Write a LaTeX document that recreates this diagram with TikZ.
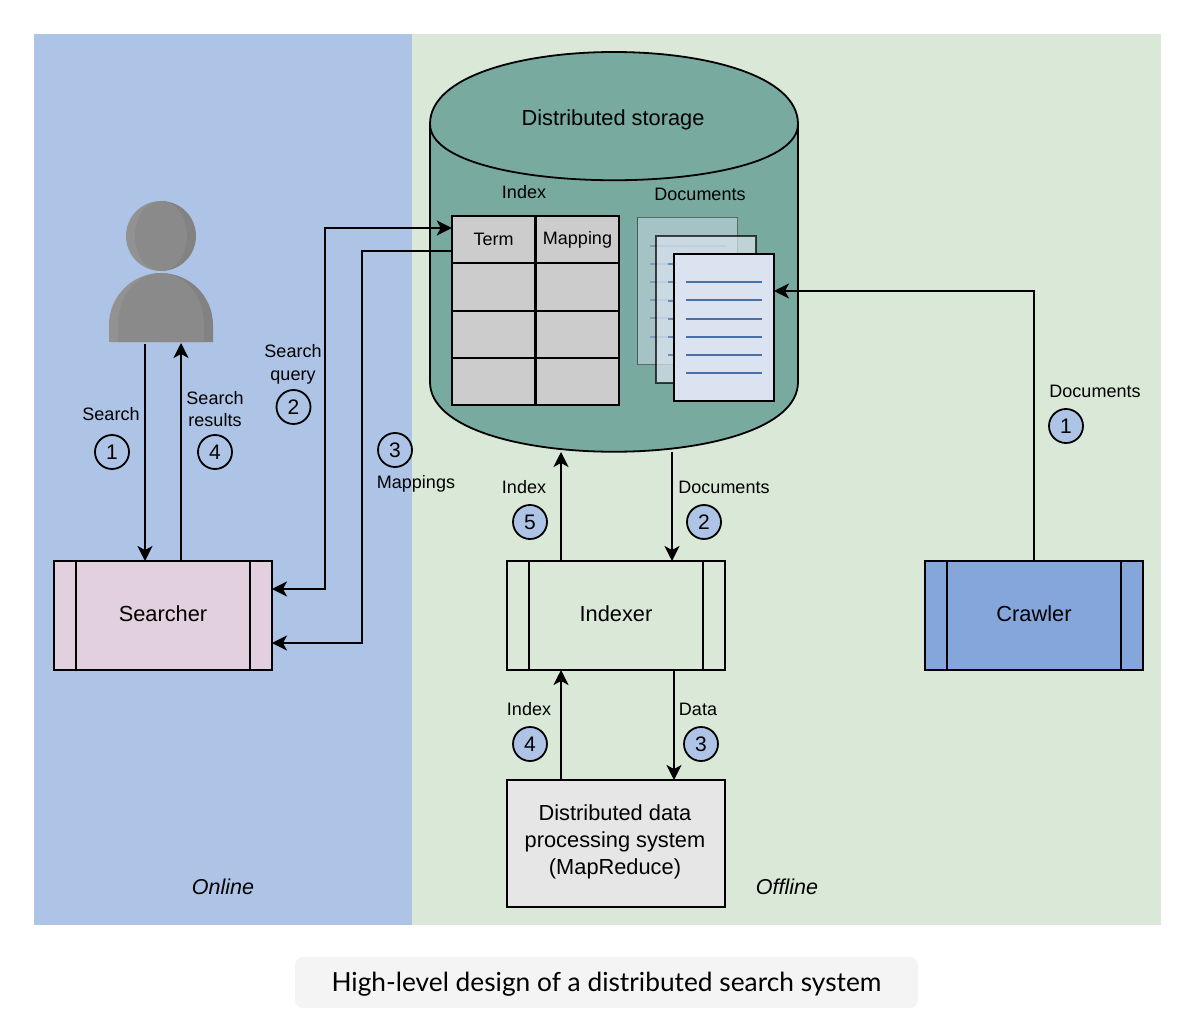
\documentclass[tikz,border=0pt]{standalone}
\usepackage{fontspec}
\setmainfont{Liberation Sans}
\newfontfamily\captionfont{Lato}
\usetikzlibrary{arrows.meta}
\definecolor{onlineblue}{HTML}{AEC4E6}
\definecolor{offlinegreen}{HTML}{DAE8D8}
\definecolor{storageteal}{HTML}{78AAA0}
\definecolor{searcherpink}{HTML}{E3D0DE}
\definecolor{crawlerblue}{HTML}{85A6DB}
\definecolor{cellgray}{HTML}{CCCCCC}
\definecolor{mrgray}{HTML}{E6E6E6}
\definecolor{pagefill}{HTML}{DCE3F0}
\definecolor{pageline}{HTML}{4A70A8}
\definecolor{personleft}{HTML}{929292}
\definecolor{personright}{HTML}{828282}
\definecolor{personin}{HTML}{8A8A8A}
\tikzset{
  smalltext/.style={font=\fontsize{18}{22.5}\selectfont, align=center},
  bigtext/.style={font=\fontsize{21.8}{27}\selectfont, align=center},
  procbox/.style={draw, bigtext, minimum width=218pt, minimum height=109pt, outer sep=0pt, text depth=3.5pt,
    path picture={
      \draw[line width=2pt] ([xshift=22pt]path picture bounding box.south west) -- ([xshift=22pt]path picture bounding box.north west);
      \draw[line width=2pt] ([xshift=-22pt]path picture bounding box.south east) -- ([xshift=-22pt]path picture bounding box.north east);
    }},
  cellbox/.style={draw, fill=cellgray, smalltext, minimum width=83.5pt, minimum height=47.5pt, outer sep=0pt},
  pagebox/.style={draw, fill=pagefill, minimum width=100pt, minimum height=147pt, outer sep=0pt},
  badge/.style={circle, draw, font=\fontsize{21}{21}\selectfont, minimum size=34pt, inner sep=0pt},
  badgeb/.style={badge, fill=onlineblue},
}
\begin{document}
\begin{tikzpicture}[x=1pt, y=-1pt, line width=1.8pt, >={Stealth[length=15pt,width=15pt,inset=4pt]}]
    \useasboundingbox (0,0) rectangle (1194,1032);
    % Online and offline regions
    \fill[onlineblue] (34,34) rectangle (412,925);
    \fill[offlinegreen] (412,34) rectangle (1161,925);
    \node[font=\fontsize{21.5}{27}\itshape] (online) at (223,887) {Online};
    \node[font=\fontsize{21.5}{27}\itshape] (offline) at (787,887) {Offline};
    % Storage cylinder
    \draw[fill=storageteal] (430,124) -- (430,382) .. controls (430,475) and (798,475) .. (798,382) -- (798,124) .. controls (798,28) and (430,28) .. (430,124) -- cycle;
    \draw (430,124) .. controls (430,199) and (798,199) .. (798,124);
    \node[bigtext] (storage) at (613,119.5) {Distributed storage};
    \coordinate (storageindex) at (561,452);
    \coordinate (storagedocs) at (672,452);
    % Index table
    \node[smalltext] (indextitle) at (524,192) {Index};
    \node[cellbox] (term) at (493.5,239.5) {\raisebox{1pt}{Term}};
    \node[cellbox] (mapping) at (577.5,239.5) {Mapping};
    \foreach \row/\y in {1/287, 2/334.5, 3/381.5} {
        \node[cellbox] (terma\row) at (493.5,\y) {};
        \node[cellbox] (mapb\row) at (577.5,\y) {};
    }
    % Document pages
    \node[smalltext] (docstitle) at (700,194) {Documents};
    \foreach \name/\x/\y/\op in {docback/687.5/291/0.45, docmid/706/309.5/0.7, docfront/724/327.5/1} {
        \node[pagebox, fill opacity=\op, draw opacity=\op] (\name) at (\x,\y) {};
        \foreach \dy in {-45,-27,-8.5,9.5,27.5,45.5}
            \draw[pageline, line width=2pt, opacity=\op] ([xshift=-38pt,yshift=-\dy pt]\name.center) -- ([xshift=38pt,yshift=-\dy pt]\name.center);
    }
    % Person
    \fill[personleft] (161,201) arc[start angle=270, end angle=90, radius=35] -- cycle;
    \fill[personright] (161,201) arc[start angle=-90, end angle=90, radius=35] -- cycle;
    \fill[personin] (161,236) ellipse[x radius=26, y radius=35];
    \fill[personleft] (161,342) -- (109,342) -- (109,325) arc[start angle=180, end angle=270, radius=52] -- cycle;
    \fill[personright] (161,342) -- (213,342) -- (213,325) arc[start angle=0, end angle=-90, radius=52] -- cycle;
    \fill[personin] (118,342) -- (118,325) arc[start angle=180, end angle=360, x radius=43, y radius=52] -- (204,342) -- cycle;
    \coordinate (personout) at (145,344);
    \coordinate (personin) at (181,343);
    % Processes
    \node[procbox, fill=searcherpink] (searcher) at (163,615.5) {Searcher};
    \node[procbox, fill=offlinegreen] (indexer) at (616,615.5) {Indexer};
    \node[procbox, fill=crawlerblue] (crawler) at (1034,615.5) {Crawler};
    \node[draw, fill=mrgray, minimum width=218pt, minimum height=127pt, outer sep=0pt] (mapreduce) at (616,843.5) {};
    \node[bigtext] (mapreducetext) at (615,842) {Distributed data\\processing system\\(MapReduce)};
    % Connectors
    \draw[->] (personout) -- (personout |- searcher.north);
    \draw[->] (personin |- searcher.north) -- (personin);
    \draw[<->] ([yshift=26.5pt]searcher.east) -- ++(53,0) |- ([yshift=11.5pt]term.west);
    \draw[<-] ([yshift=-27.5pt]searcher.east) -- ++(90,0) |- ([yshift=-11.5pt]term.west);
    \draw[->] (crawler.north) |- ([yshift=36.5pt]docfront.east);
    \draw[->] ([xshift=-55pt]indexer.north) -- (storageindex);
    \draw[->] (storagedocs) -- ([xshift=56pt]indexer.north);
    \draw[->] ([xshift=-55pt]mapreduce.north) -- ([xshift=-55pt]indexer.south);
    \draw[->] ([xshift=58pt]indexer.south) -- ([xshift=58pt]mapreduce.north);
    % Labels
    \node[smalltext] (searchlbl) at (111,414) {Search};
    \node[badge] (b1) at (112,452) {1};
    \node[smalltext] (resultslbl) at (215,409) {Search\\results};
    \node[badge] (b4) at (215,452) {4};
    \node[smalltext] (querylbl) at (293,364.5) {Search\\query};
    \node[badge] (b2) at (293.5,407) {2};
    \node[badge] (b3) at (395,450) {3};
    \node[smalltext] (mappingslbl) at (416,484) {Mappings};
    \node[smalltext] (indexlbla) at (524,487) {Index};
    \node[badgeb] (b5) at (530,522) {5};
    \node[smalltext] (docslbla) at (724,487) {Documents};
    \node[badgeb] (b2b) at (704,522) {2};
    \node[smalltext] (indexlblb) at (529,709) {Index};
    \node[badgeb] (b4b) at (530,744) {4};
    \node[smalltext] (datalbl) at (698,709) {Data};
    \node[badgeb] (b3b) at (701,744) {3};
    \node[smalltext] (docslblb) at (1095,391) {Documents};
    \node[badgeb] (b1b) at (1066,426) {1};
    % Caption
    \node[fill=black!4.5, rounded corners=8pt, minimum width=623pt, minimum height=51pt, text height=23.5pt, text depth=5.5pt, font=\captionfont\fontsize{26.3}{30}\selectfont] (caption) at (606.5,982.5) {High-level design of a distributed search system};
\end{tikzpicture}
\end{document}
